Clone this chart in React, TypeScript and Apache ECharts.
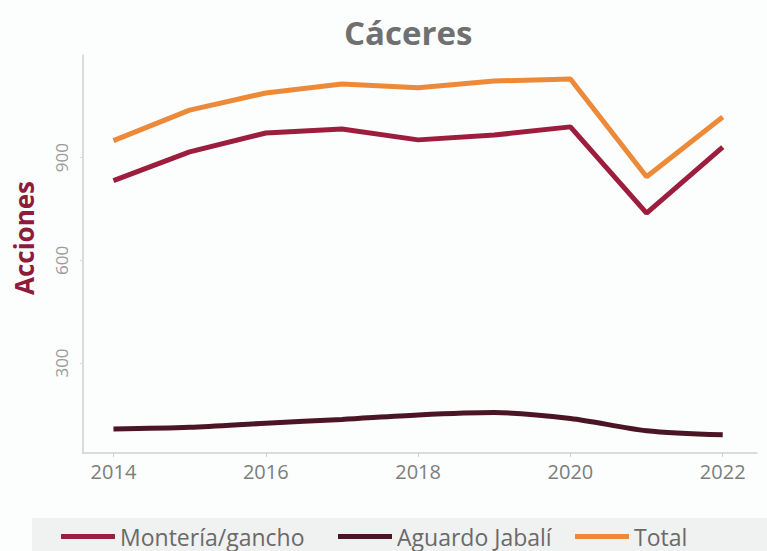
import React, { useEffect, useRef } from "react";
import * as echarts from "echarts";

const years = [2014, 2015, 2016, 2017, 2018, 2019, 2020, 2021, 2022];
const monteria = [833, 917, 972, 984, 952, 966, 990, 738, 931];
const aguardo = [107, 112, 124, 135, 148, 155, 138, 102, 90];
const total = [950, 1039, 1089, 1115, 1104, 1124, 1130, 844, 1019];
const xTicks = [2014, 2016, 2018, 2020, 2022];
const yTicks = [300, 600, 900];
const seriesNames = ["Montería/gancho", "Aguardo Jabalí", "Total"];
const legendLefts = [56, 333, 570];

const FONT = "'Open Sans', 'Noto Sans', sans-serif";

const pairs = (vals: number[]) => years.map((y, i) => [y, vals[i]]);

export default function App() {
  const ref = useRef<HTMLDivElement>(null);

  useEffect(() => {
    if (!ref.current) return;
    const chart = echarts.init(ref.current, undefined, { renderer: "svg" });
    chart.setOption({
      animation: false,
      backgroundColor: "#fcfdfd",
      title: {
        text: "Cáceres",
        left: 339,
        top: 11,
        textStyle: { fontFamily: FONT, fontSize: 33, fontWeight: "bold", color: "#707070" },
      },
      graphic: [
        {
          type: "rect",
          shape: { x: 32, y: 518, width: 740, height: 40 },
          style: { fill: "#f0f1f1" },
          z: -10,
        },
        {
          type: "text",
          x: 24,
          y: 238,
          rotation: Math.PI / 2,
          style: {
            text: "Acciones",
            fontFamily: FONT,
            fontSize: 26,
            fontWeight: "bold",
            fill: "#8e1b3c",
            align: "center",
            verticalAlign: "middle",
          },
        },
      ],
      // one legend per series so each entry sits at its own spot in the band
      legend: seriesNames.map((name, i) => ({
        left: legendLefts[i],
        top: 520,
        itemWidth: 54,
        itemHeight: 5,
        icon: "rect",
        textStyle: { fontFamily: FONT, fontSize: 23, color: "#6a6a6a" },
        data: [name],
      })),
      grid: { left: 83, right: 10, top: 55, bottom: 98 },
      xAxis: {
        type: "value",
        min: 2013.6,
        max: 2022.45,
        splitLine: { show: false },
        axisLine: { show: true, lineStyle: { color: "#cfcfcf", width: 1.5 } },
        axisTick: { show: true, customValues: xTicks, length: 4, lineStyle: { color: "#cfcfcf" } },
        axisLabel: {
          customValues: xTicks,
          margin: 8,
          fontFamily: FONT,
          fontSize: 20,
          color: "#7d7d7d",
          formatter: (v: number) => String(v),
        },
      },
      yAxis: {
        type: "value",
        min: 37,
        max: 1200,
        splitLine: { show: false },
        axisLine: { show: true, lineStyle: { color: "#cfcfcf", width: 1.5 } },
        axisTick: { show: true, customValues: yTicks, length: 3, lineStyle: { color: "#dddddd" } },
        axisLabel: {
          customValues: yTicks,
          rotate: 90,
          margin: 13,
          fontFamily: FONT,
          fontSize: 17,
          color: "#9a9a9a",
        },
      },
      series: [
        {
          name: seriesNames[0],
          type: "line",
          data: pairs(monteria),
          showSymbol: false,
          lineStyle: { width: 5, color: "#9c1d3e" },
          itemStyle: { color: "#9c1d3e" },
        },
        {
          name: seriesNames[1],
          type: "line",
          data: pairs(aguardo),
          showSymbol: false,
          smooth: 0.3,
          lineStyle: { width: 5, color: "#4b1526" },
          itemStyle: { color: "#4b1526" },
        },
        {
          name: seriesNames[2],
          type: "line",
          data: pairs(total),
          showSymbol: false,
          lineStyle: { width: 5, color: "#ec8a3a" },
          itemStyle: { color: "#ec8a3a" },
        },
      ],
    });
    return () => chart.dispose();
  }, []);

  return <div ref={ref} style={{ width: 767, height: 551, position: "absolute", left: 0, top: 0 }} />;
}
